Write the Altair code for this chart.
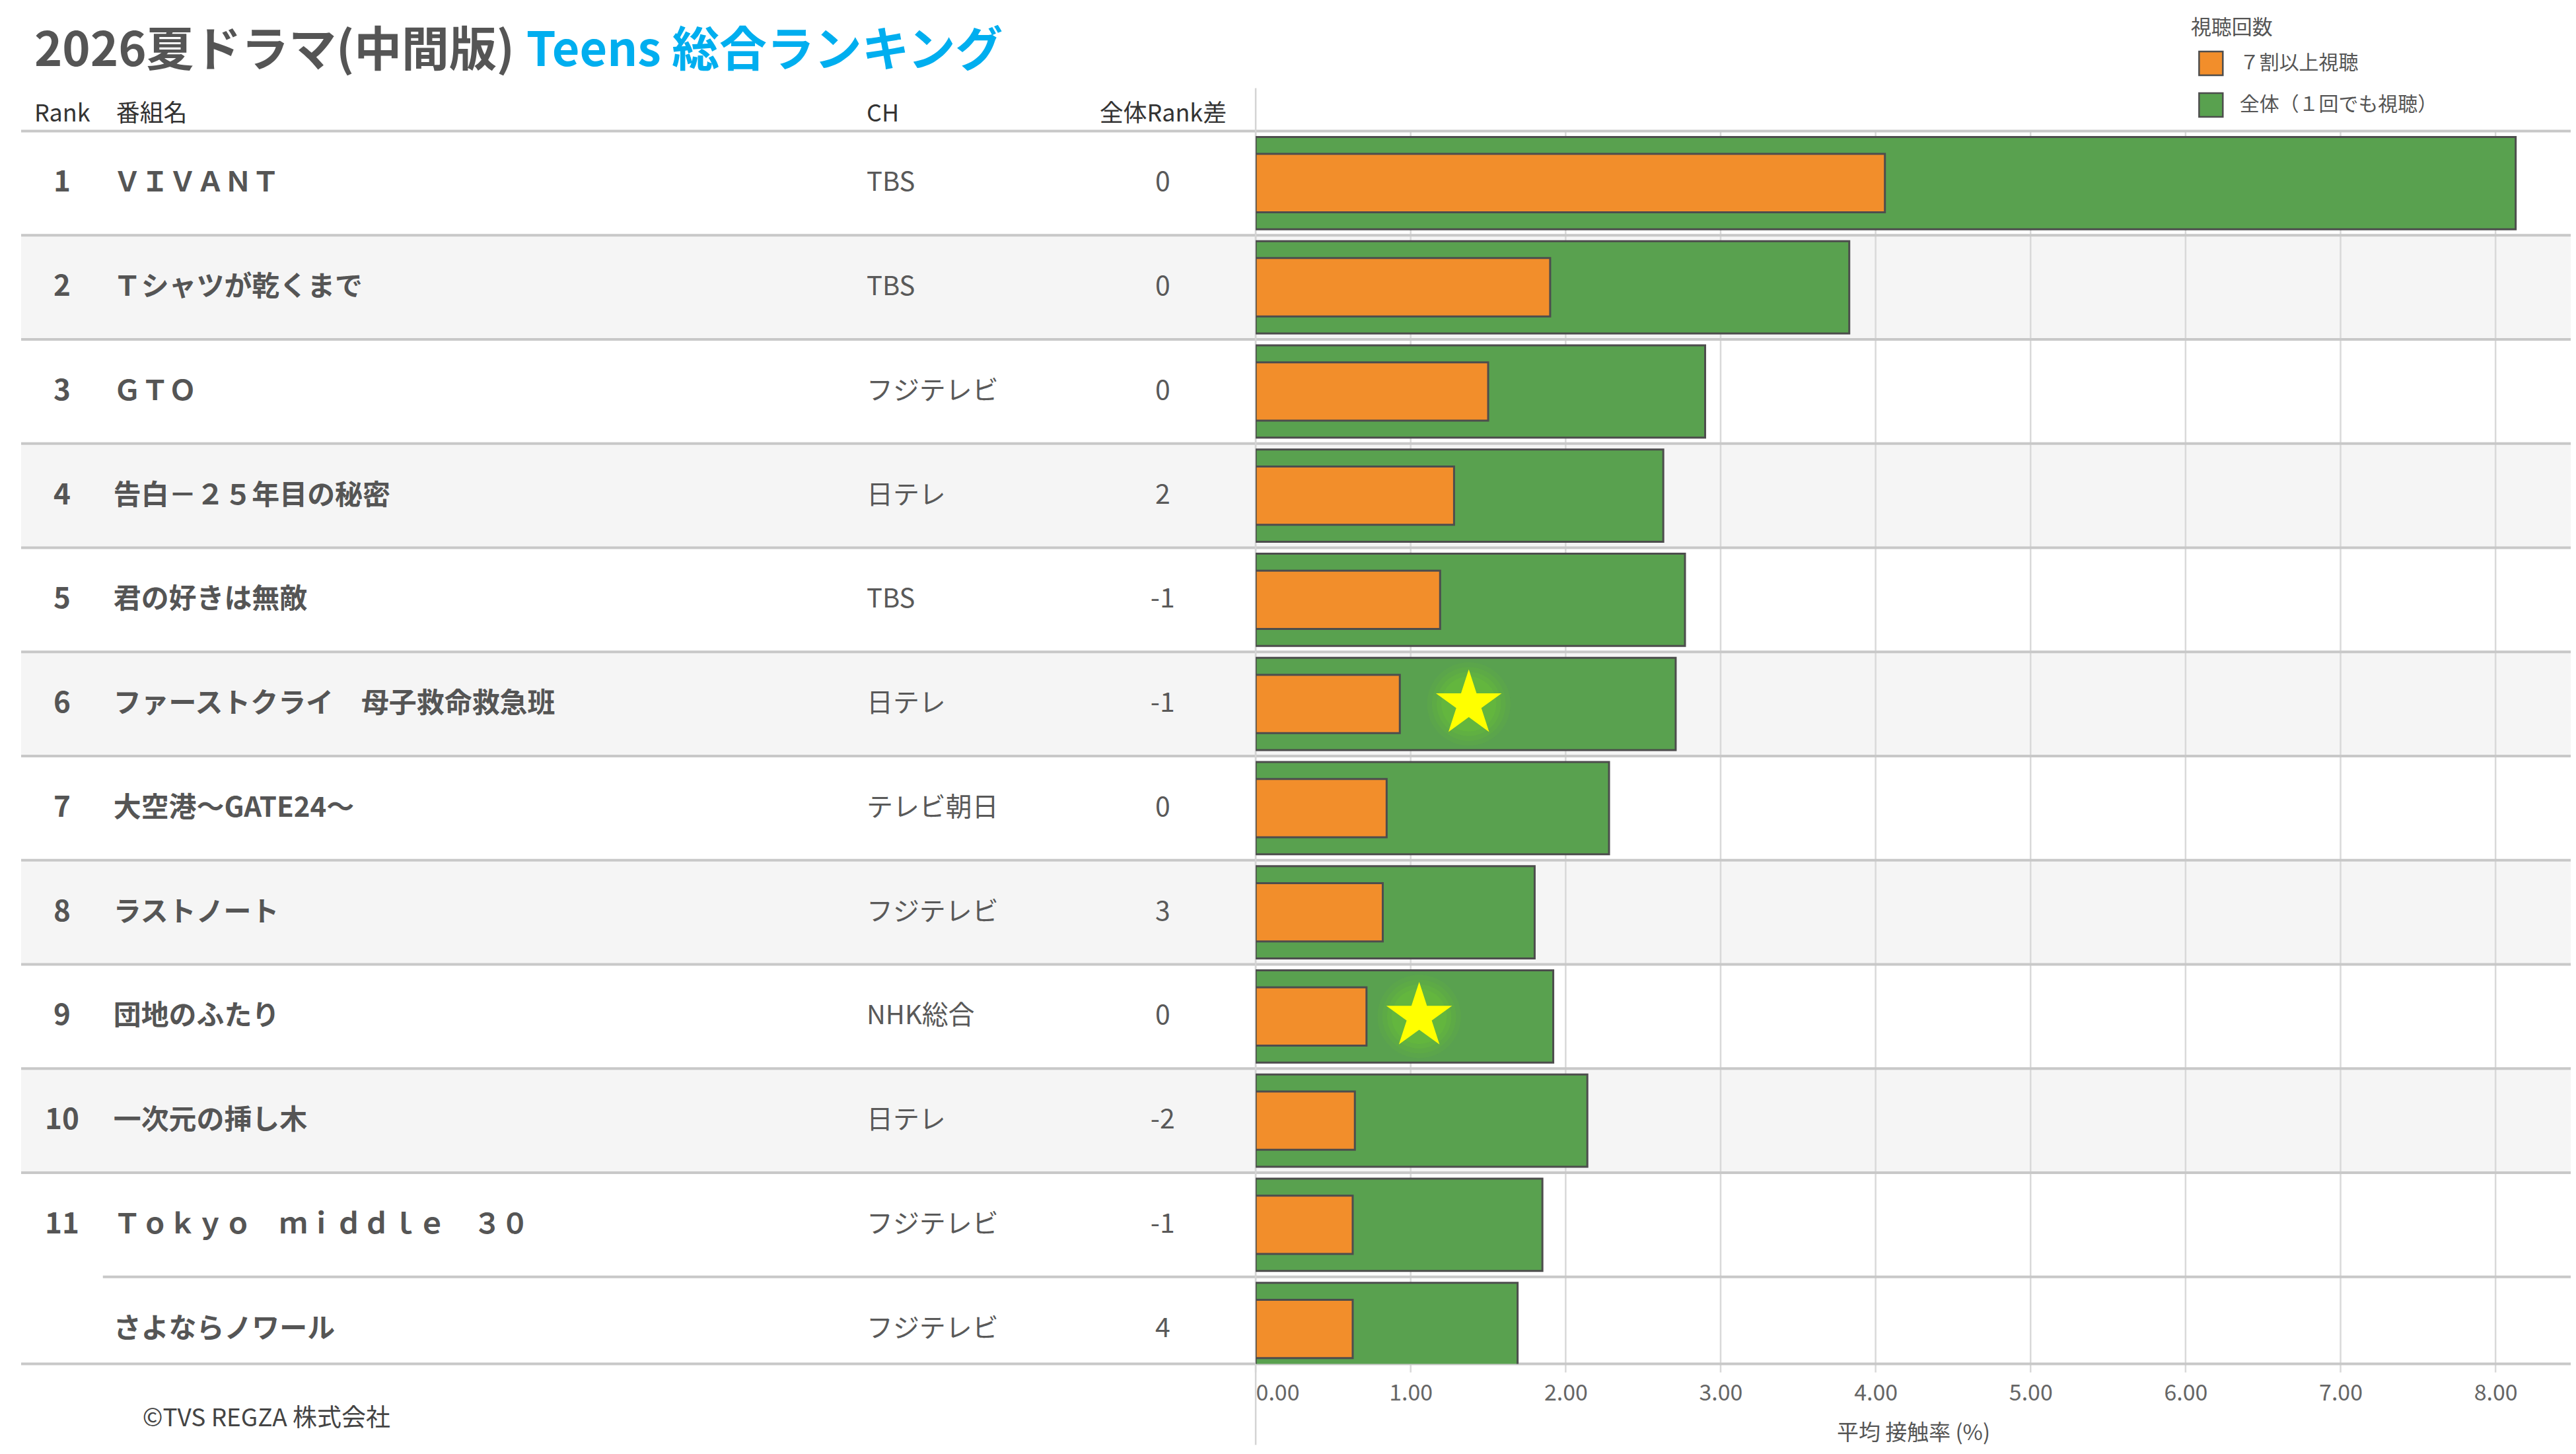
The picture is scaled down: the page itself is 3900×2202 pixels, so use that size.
import altair as alt
import pandas as pd

# ---------------- data ----------------
ranks = ["1", "2", "3", "4", "5", "6", "7", "8", "9", "10", "11", ""]
names = ["ＶＩＶＡＮＴ", "Ｔシャツが乾くまで", "ＧＴＯ", "告白－２５年目の秘密", "君の好きは無敵",
         "ファーストクライ　母子救命救急班", "大空港～GATE24～", "ラストノート", "団地のふたり",
         "一次元の挿し木", "Ｔｏｋｙｏ　ｍｉｄｄｌｅ　３０", "さよならノワール"]
channels = ["TBS", "TBS", "フジテレビ", "日テレ", "TBS", "日テレ", "テレビ朝日", "フジテレビ",
            "NHK総合", "日テレ", "フジテレビ", "フジテレビ"]
rank_diff = [0, 0, 0, 2, -1, -1, 0, 3, 0, -2, -1, 4]
total_rate = [8.13, 3.83, 2.90, 2.63, 2.77, 2.71, 2.28, 1.80, 1.92, 2.14, 1.85, 1.69]
heavy_rate = [4.06, 1.90, 1.50, 1.28, 1.19, 0.93, 0.845, 0.82, 0.715, 0.64, 0.626, 0.626]
star_rows = [6, 9]
star_values = [1.375, 1.055]
x_ticks = [0, 1, 2, 3, 4, 5, 6, 7, 8]
series_labels = ["７割以上視聴", "全体（１回でも視聴）"]
series_colors = ["#F28E2B", "#59A14F"]

# ---------------- layout ----------------
W, H = 1994, 1870
LEFT = -1872
FONT = "Noto Sans CJK JP"
STAR = ("M0,-1 L0.2245,-0.309 L0.951,-0.309 L0.363,0.118 L0.588,0.809 L0,0.382 "
        "L-0.588,0.809 L-0.363,0.118 L-0.951,-0.309 L-0.2245,-0.309 Z")

rows = pd.DataFrame({
    "pos": list(range(1, len(names) + 1)),
    "rank": ranks,
    "name": names,
    "ch": channels,
    "diff": [str(d) for d in rank_diff],
    "total": total_rate,
    "heavy": heavy_rate,
})
stars = pd.DataFrame({"pos": star_rows, "sx": star_values})
ticks = pd.DataFrame({"t": x_ticks})
one = pd.DataFrame({"k": [0]})

yscale = alt.Scale(domain=[0.5, 12.335], reverse=True, nice=False, zero=False)
xscale = alt.Scale(domain=[0, W / 235.0], nice=False, zero=False)
xaxis = alt.Axis(values=x_ticks, format=".2f", grid=False, ticks=False, tickSize=0,
                 domain=False, labelFlush=True, labelFontSize=34, labelColor="#666666",
                 labelPadding=28, title="平均 接触率 (%)", titleFontSize=33,
                 titleColor="#555555", titleFontWeight="normal", titlePadding=27)


def Y(f):
    return alt.Y(f"{f}:Q", scale=yscale, axis=None)


def X(f):
    return alt.X(f"{f}:Q", scale=xscale, axis=xaxis)


def label(text, x, y, size, color, weight="normal", align="left", baseline="alphabetic"):
    return alt.Chart(pd.DataFrame({"label": [text]})).mark_text(
        align=align, baseline=baseline, fontSize=size, fontWeight=weight, color=color
    ).encode(x=alt.value(x), y=alt.value(y), text="label:N")


base = alt.Chart(rows)

bg = base.transform_filter("datum.pos % 2 == 0 && datum.rank != ''").transform_calculate(
    y0="datum.pos - 0.5", y1="datum.pos + 0.5"
).mark_rect(color="#f5f5f5").encode(
    x=alt.value(LEFT), x2=alt.value(W), y=Y("y0"), y2=alt.Y2("y1:Q"))

grid = alt.Chart(ticks).mark_rule(color="#d9d9d9", strokeWidth=2.5).encode(
    x=X("t"), y=alt.value(0), y2=alt.value(H + 13))

sep_full = base.transform_filter("datum.rank != ''").transform_calculate(
    ly="datum.pos - 0.5").mark_rule(color="#c8c8c8", strokeWidth=4).encode(
    x=alt.value(LEFT), x2=alt.value(W), y=Y("ly"))
sep_tie = base.transform_filter("datum.rank == ''").transform_calculate(
    ly="datum.pos - 0.5").mark_rule(color="#c8c8c8", strokeWidth=4).encode(
    x=alt.value(-1748), x2=alt.value(W), y=Y("ly"))
sep_bottom = alt.Chart(one).mark_rule(color="#c8c8c8", strokeWidth=4).encode(
    x=alt.value(LEFT), x2=alt.value(W), y=alt.value(H))
vline = alt.Chart(one).mark_rule(color="#d4d4d4", strokeWidth=2.5).encode(
    x=alt.value(0), y=alt.value(-65), y2=alt.value(1993))

color = alt.Color("series:N", scale=alt.Scale(domain=series_labels, range=series_colors),
                  legend=alt.Legend(title=None, orient="none", legendX=1429, legendY=-122,
                                    labelFontSize=30, labelColor="#555555", labelLimit=600,
                                    symbolType="square", symbolSize=1296,
                                    symbolStrokeColor="#4d4d4d", symbolStrokeWidth=2.5,
                                    rowPadding=16, labelOffset=24, padding=0,
                                    symbolOpacity=1))

green = base.transform_calculate(
    y0="datum.pos - 0.443", y1="datum.pos + 0.443", zero="0",
    series=f"'{series_labels[1]}'"
).mark_rect(stroke="#4d4d4d", strokeWidth=3, clip=True, opacity=1).encode(
    x=X("total"), x2=alt.X2("zero:Q"), y=Y("y0"), y2=alt.Y2("y1:Q"), color=color)

orange = base.transform_calculate(
    y0="datum.pos - 0.28", y1="datum.pos + 0.28", zero="0",
    series=f"'{series_labels[0]}'"
).mark_rect(stroke="#4d4d4d", strokeWidth=3, clip=True, opacity=1).encode(
    x=X("heavy"), x2=alt.X2("zero:Q"), y=Y("y0"), y2=alt.Y2("y1:Q"), color=color)


def glow(size, opacity):
    return alt.Chart(stars).mark_point(shape="circle", filled=True, color="#6CC832",
                                       opacity=opacity, size=size, strokeWidth=0).encode(
        x=X("sx"), y=Y("pos"))


glows = [glow(16000, 0.12), glow(12500, 0.15), glow(9500, 0.2), glow(7000, 0.25)]
star = alt.Chart(stars).mark_point(shape=STAR, filled=True, color="#FFFF00",
                                   opacity=1, size=11000, strokeWidth=0).encode(
    x=X("sx"), y=Y("pos"))

t_rank = base.mark_text(align="center", baseline="middle", fontSize=44, fontWeight="bold",
                        color="#555555").encode(x=alt.value(-1810), y=Y("pos"), text="rank:N")
t_name = base.mark_text(align="left", baseline="middle", fontSize=42, fontWeight="bold",
                        color="#555555").encode(x=alt.value(-1732), y=Y("pos"), text="name:N")
t_ch = base.mark_text(align="left", baseline="middle", fontSize=40,
                      color="#595959").encode(x=alt.value(-590), y=Y("pos"), text="ch:N")
t_diff = base.mark_text(align="center", baseline="middle", fontSize=41,
                        color="#595959").encode(x=alt.value(-141), y=Y("pos"), text="diff:N")

title1 = label("2026夏ドラマ(中間版)", -1852, -99, 72, "#555555", weight="bold")
title2 = label("Teens 総合ランキング", -1106, -99, 72, "#00AEEF", weight="bold")
h_rank = label("Rank", -1852, -14, 36, "#333333")
h_name = label("番組名", -1728, -14, 36, "#333333")
h_ch = label("CH", -590, -14, 36, "#333333")
h_diff = label("全体Rank差", -44, -14, 36, "#333333", align="right")
leg_title = label("視聴回数", 1418, -147, 31, "#555555")
footer = label("©TVS REGZA 株式会社", -1688, 1965, 37, "#444444")

chart = alt.layer(
    bg, grid, sep_full, sep_tie, sep_bottom, vline, green, orange, *glows, star,
    t_rank, t_name, t_ch, t_diff, title1, title2, h_rank, h_name, h_ch, h_diff,
    leg_title, footer
).properties(
    width=W, height=H,
    autosize=alt.AutoSizeParams(type="none"),
    padding={"left": 1896, "top": 189, "right": 0, "bottom": 131},
).configure(font=FONT).configure_view(stroke=None)

chart.save("out.html", embed_options={"renderer": "svg", "actions": False})
